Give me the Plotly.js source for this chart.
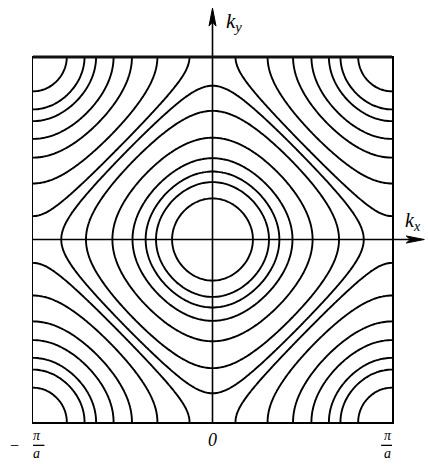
<!DOCTYPE html>
<html>
<head>
<meta charset="utf-8">
<script src="https://cdn.plot.ly/plotly-3.0.1.min.js"></script>
<style>html,body{margin:0;padding:0;background:#fff;}#chart{width:428px;height:464px;}</style>
</head>
<body>
<div id="chart"></div>
<script>
// Constant-energy contours in the square Brillouin zone (levels)
const levelsCenter = [1.76, 1.55, 1.39, 1.17, 0.82, 0.40, 0.12];
const levelsCorner = [-1.83, -1.62, -1.45, -1.16, -0.84, -0.43, -0.08];
const tickVals = [-Math.PI, 0, Math.PI];
const tickTexts = ["<i>π</i><br><i>a</i>", "<i>0</i>", "<i>π</i><br><i>a</i>"];
const kxLabel = "k<sub>x</sub>";
const kyLabel = "k<sub>y</sub>";

// k-space grid over the zone
const N = 181;
const kGrid = [];
for (let i = 0; i < N; i++) kGrid.push(-Math.PI + 2 * Math.PI * i / (N - 1));
// tight-binding band energy on the grid
const zGrid = kGrid.map(ky => kGrid.map(kx => Math.cos(kx) + Math.cos(ky)));

const traces = levelsCenter.concat(levelsCorner).map(L => ({
  type: 'contour',
  x: kGrid, y: kGrid, z: zGrid,
  autocontour: false,
  contours: {start: L, end: L, size: 1, coloring: 'none', showlabels: false},
  line: {color: '#000', width: 1.9, smoothing: 1},
  showscale: false,
  hoverinfo: 'skip'
}));

const serif = "Liberation Serif, DejaVu Serif, serif";
const annotations = [
  {x: 0.532, xref: 'paper', y: 1.096, yref: 'paper', text: '<i>' + kyLabel + '</i>', showarrow: false,
   xanchor: 'left', yanchor: 'middle', font: {family: serif, size: 21, color: '#000'}},
  {x: 1.03, xref: 'paper', y: 0.55, yref: 'paper', text: '<i>' + kxLabel + '</i>', showarrow: false,
   xanchor: 'left', yanchor: 'middle', font: {family: serif, size: 20, color: '#000'}},
  // tick labels
  {x: tickVals[0] + 0.07, xref: 'x', y: -0.063, yref: 'paper', text: tickTexts[0], showarrow: false,
   yanchor: 'middle', font: {family: serif, size: 14, color: '#000'}},
  {x: -0.07, xref: 'paper', y: -0.064, yref: 'paper', text: '−', showarrow: false,
   yanchor: 'middle', font: {family: serif, size: 16, color: '#000'}},
  {x: tickVals[1], xref: 'x', y: -0.05, yref: 'paper', text: tickTexts[1], showarrow: false,
   yanchor: 'middle', font: {family: serif, size: 18, color: '#000'}},
  {x: tickVals[2] - 0.07, xref: 'x', y: -0.063, yref: 'paper', text: tickTexts[2], showarrow: false,
   yanchor: 'middle', font: {family: serif, size: 14, color: '#000'}}
];

const shapes = [
  // k_y axis line and arrowhead
  {type: 'line', xref: 'x', yref: 'paper', x0: 0, x1: 0, y0: 0, y1: 1.12, line: {color: '#000', width: 1.6}},
  {type: 'path', xref: 'x', yref: 'paper', xsizemode: 'pixel', ysizemode: 'pixel', xanchor: 0, yanchor: 1.134,
   path: 'M0,0 L-3.5,-18 L0,-14 L3.5,-18 Z', fillcolor: '#000', line: {color: '#000', width: 1}},
  // k_x axis line and arrowhead
  {type: 'line', xref: 'paper', yref: 'y', x0: 0, x1: 1.07, y0: 0, y1: 0, line: {color: '#000', width: 1.6}},
  {type: 'path', xref: 'paper', yref: 'y', xsizemode: 'pixel', ysizemode: 'pixel', xanchor: 1.09, yanchor: 0,
   path: 'M0,0 L-18,3.5 L-14,0 L-18,-3.5 Z', fillcolor: '#000', line: {color: '#000', width: 1}},
  // fraction bars
  {type: 'line', xref: 'x', yref: 'paper', x0: tickVals[0] - 0.05, x1: tickVals[0] + 0.2, y0: -0.064, y1: -0.064,
   line: {color: '#000', width: 1.3}},
  {type: 'line', xref: 'x', yref: 'paper', x0: tickVals[2] - 0.19, x1: tickVals[2] + 0.06, y0: -0.064, y1: -0.064,
   line: {color: '#000', width: 1.3}},
  // heavy top border
  {type: 'line', xref: 'paper', yref: 'paper', x0: 0, x1: 1, y0: 1, y1: 1, line: {color: '#111', width: 3}}
];

const layout = {
  width: 428, height: 464,
  margin: {l: 33, r: 36, t: 57, b: 42},
  paper_bgcolor: '#fff', plot_bgcolor: '#fff',
  showlegend: false,
  xaxis: {range: [-Math.PI, Math.PI], showgrid: false, zeroline: false, showticklabels: false, ticks: '',
          showline: true, mirror: true, linecolor: '#000', linewidth: 1.5, fixedrange: true},
  yaxis: {range: [-Math.PI, Math.PI], showgrid: false, zeroline: false, showticklabels: false, ticks: '',
          showline: true, mirror: true, linecolor: '#000', linewidth: 1.5, fixedrange: true},
  annotations: annotations,
  shapes: shapes
};

Plotly.newPlot('chart', traces, layout, {displayModeBar: false, staticPlot: true});
</script>
</body>
</html>
